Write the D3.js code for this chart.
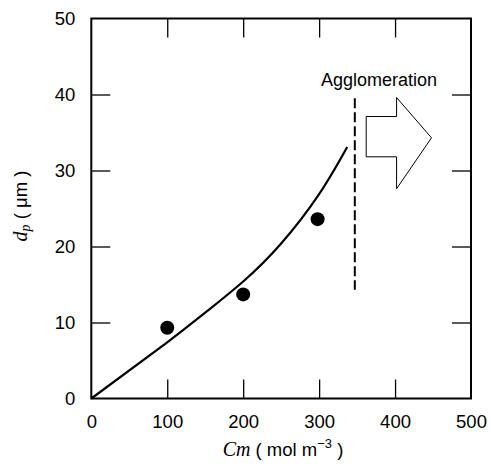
<!DOCTYPE html>
<html><head><meta charset="utf-8">
<script src="https://cdn.jsdelivr.net/npm/d3@7"></script>
<style>body{margin:0;background:#fff}svg{display:block}</style>
</head><body>
<svg id="c" width="491" height="466"></svg>
<script>
const xTicks = [0,100,200,300,400,500];
const yTicks = [0,10,20,30,40,50];
const pointsX = [100,200,298];
const pointsY = [9.3,13.7,23.6];
const curveX = [0,100,150,200,250,300,337];
const curveY = [0,7.4,11.3,15.4,20.4,26.9,33.1];
const dashX = 347;
const dashY = [14.3,39.5];
const annotation = "Agglomeration";

const svg = d3.select("#c");
const x = d3.scaleLinear().domain([0,500]).range([91.3,471]);
const y = d3.scaleLinear().domain([0,50]).range([398.5,18.5]);
const font = "'Liberation Sans', Arial, sans-serif";
const tl = 19;

// frame
svg.append("rect").attr("x",x(0)).attr("y",y(50)).attr("width",x(500)-x(0)).attr("height",y(0)-y(50))
  .attr("fill","none").attr("stroke","#000").attr("stroke-width",2);

// axes
const gb = svg.append("g").attr("transform",`translate(0,${y(0)})`)
  .call(d3.axisBottom(x).tickValues(xTicks).tickSizeInner(-tl).tickSizeOuter(0).tickPadding(16));
const gl = svg.append("g").attr("transform",`translate(${x(0)},0)`)
  .call(d3.axisLeft(y).tickValues(yTicks).tickSizeInner(-tl).tickSizeOuter(0).tickPadding(16));
const gt = svg.append("g").attr("transform",`translate(0,${y(50)})`)
  .call(d3.axisTop(x).tickValues(xTicks.slice(1,-1)).tickSizeInner(-tl).tickSizeOuter(0).tickFormat(""));
const gr = svg.append("g").attr("transform",`translate(${x(500)},0)`)
  .call(d3.axisRight(y).tickValues(yTicks.slice(1,-1)).tickSizeInner(-tl).tickSizeOuter(0).tickFormat(""));
[gb,gl,gt,gr].forEach(g=>{
  g.select(".domain").remove();
  g.selectAll("line").attr("stroke","#000").attr("stroke-width",1.3);
  g.selectAll("text").attr("font-family",font).attr("font-size",18.5).attr("fill","#000");
});
gb.selectAll(".tick").filter(d=>d===0||d===500).select("line").remove();
gl.selectAll(".tick").filter(d=>d===0||d===50).select("line").remove();

// curve
const line = d3.line().x(d=>x(d[0])).y(d=>y(d[1])).curve(d3.curveNatural);
svg.append("path").datum(curveX.map((v,i)=>[v,curveY[i]])).attr("d",line)
  .attr("fill","none").attr("stroke","#000").attr("stroke-width",2.2);

// points
svg.selectAll("circle.pt").data(pointsX.map((v,i)=>[v,pointsY[i]])).enter().append("circle")
  .attr("cx",d=>x(d[0])).attr("cy",d=>y(d[1])).attr("r",7).attr("fill","#000");

// dashed line
svg.append("line").attr("x1",x(dashX)).attr("x2",x(dashX)).attr("y1",y(dashY[1])).attr("y2",y(dashY[0]))
  .attr("stroke","#000").attr("stroke-width",2).attr("stroke-dasharray","10,4");

// arrow (in data coords)
const ax0 = 362, ax1 = 402, ax2 = 448;
const ay = [31.8, 37.1, 39.6, 34.3, 28.9];
const arrowPts = [[ax0,ay[1]],[ax1,ay[1]],[ax1,ay[2]],[ax2,ay[3]],[ax1,ay[4]-1.3],[ax1,ay[0]],[ax0,ay[0]]];
svg.append("path").attr("d",d3.line().x(d=>x(d[0])).y(d=>y(d[1]))(arrowPts)+"Z")
  .attr("fill","#fff").attr("stroke","#000").attr("stroke-width",1);

svg.append("text").attr("x",379).attr("y",86).attr("text-anchor","middle")
  .attr("font-family",font).attr("font-size",18).text(annotation);

// x label
const xl = svg.append("text").attr("x",283).attr("y",456).attr("text-anchor","middle").attr("font-size",18.5).attr("font-family",font);
xl.append("tspan").attr("font-family","'Liberation Serif', serif").attr("font-style","italic").attr("font-size",20).text("Cm");
xl.append("tspan").text("  ( mol m");
xl.append("tspan").attr("dy",-8).attr("font-size",13).text("−3");
xl.append("tspan").attr("dy",8).text(" )");

// y label
const yl = svg.append("text").attr("transform","translate(27,206) rotate(-90)").attr("text-anchor","middle").attr("font-size",18.5).attr("font-family",font);
yl.append("tspan").attr("font-family","'Liberation Serif', serif").attr("font-style","italic").attr("font-size",20).text("d");
yl.append("tspan").attr("font-family","'Liberation Serif', serif").attr("font-style","italic").attr("font-size",14).attr("dy",3).text("p");
yl.append("tspan").attr("dy",-3).text("  ( μm )");
</script>
</body></html>
